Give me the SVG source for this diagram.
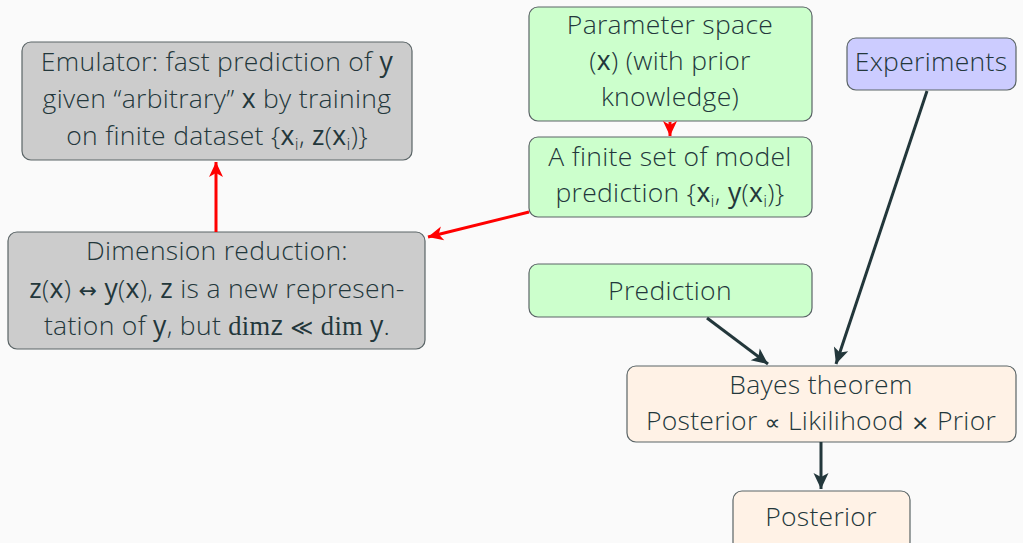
<svg xmlns="http://www.w3.org/2000/svg" width="1023" height="543" viewBox="0 0 1023 543">
<style>
.t{font-family:"Open Sans","Noto Sans","DejaVu Sans",sans-serif;font-weight:300;font-size:26.5px;letter-spacing:0.3px;fill:#23373b;text-anchor:middle}
.b{font-weight:500}
.s{font-size:17px}
.m{font-family:"Liberation Serif",serif;font-weight:400}
.o{font-family:"DejaVu Sans",sans-serif;font-weight:400;font-size:22px}
.box{stroke:#5a6466;stroke-width:1.2}
.gray{fill:#cccccc}
.green{fill:#ccffcc}
.blue{fill:#ccccff}
.peach{fill:#fff2e6}
.red{stroke:#ff0000;stroke-width:3;fill:none}
.dark{stroke:#23373b;stroke-width:3;fill:none}
</style>
<defs>
<marker id="ar" viewBox="-16 -8 16 16" refX="0" refY="0" markerWidth="16" markerHeight="16" orient="auto" markerUnits="userSpaceOnUse" overflow="visible">
<path d="M0,0 L-15,-7 L-11,0 L-15,7 Z" fill="#ff0000"/>
</marker>
<marker id="ad" viewBox="-16 -8 16 16" refX="0" refY="0" markerWidth="16" markerHeight="16" orient="auto" markerUnits="userSpaceOnUse" overflow="visible">
<path d="M0,0 L-16,-7.5 L-12,0 L-16,7.5 Z" fill="#23373b"/>
</marker>
</defs>
<rect width="1023" height="543" fill="#fafafa"/>

<g id="emulator">
<rect class="box gray" x="22" y="42" width="390" height="118" rx="9"/>
<text class="t" x="217" y="71">Emulator: fast prediction of <tspan class="b">y</tspan></text>
<text class="t" x="217" y="108">given “arbitrary” <tspan class="b">x</tspan> by training</text>
<text class="t" x="217" y="145">on finite dataset {<tspan class="b">x</tspan><tspan class="s" dy="5">i</tspan><tspan dy="-5">, </tspan><tspan class="b">z</tspan>(<tspan class="b">x</tspan><tspan class="s" dy="5">i</tspan><tspan dy="-5">)}</tspan></text>
</g>

<g id="dimension">
<rect class="box gray" x="8" y="232" width="417" height="117" rx="9"/>
<text class="t" x="217" y="260">Dimension reduction:</text>
<text class="t" x="217" y="298"><tspan class="b">z</tspan>(<tspan class="b">x</tspan>) <tspan class="o">↔</tspan> <tspan class="b">y</tspan>(<tspan class="b">x</tspan>), <tspan class="b">z</tspan> is a new represen-</text>
<text class="t" x="217" y="335">tation of <tspan class="b">y</tspan>, but <tspan class="m">dim</tspan><tspan class="b">z</tspan> <tspan class="o">≪</tspan> <tspan class="m">dim </tspan><tspan class="b">y</tspan>.</text>
</g>

<g id="parameter">
<rect class="box green" x="529" y="7" width="283" height="114" rx="9"/>
<text class="t" x="670" y="34">Parameter space</text>
<text class="t" x="670" y="70">(<tspan class="b">x</tspan>) (with prior</text>
<text class="t" x="670" y="106">knowledge)</text>
</g>

<g id="finite">
<rect class="box green" x="529" y="137" width="283" height="80" rx="9"/>
<text class="t" x="670" y="166">A finite set of model</text>
<text class="t" x="670" y="202">prediction {<tspan class="b">x</tspan><tspan class="s" dy="5">i</tspan><tspan dy="-5">, </tspan><tspan class="b">y</tspan>(<tspan class="b">x</tspan><tspan class="s" dy="5">i</tspan><tspan dy="-5">)}</tspan></text>
</g>

<g id="experiments">
<rect class="box blue" x="847" y="38" width="169" height="52" rx="9"/>
<text class="t" x="931" y="71">Experiments</text>
</g>

<g id="prediction">
<rect class="box green" x="529" y="264" width="283" height="53" rx="9"/>
<text class="t" x="670" y="300">Prediction</text>
</g>

<g id="bayes">
<rect class="box peach" x="627" y="366" width="389" height="76" rx="9"/>
<text class="t" x="821" y="394">Bayes theorem</text>
<text class="t" x="821" y="430">Posterior <tspan class="o">∝</tspan> Likilihood <tspan class="o">×</tspan> Prior</text>
</g>

<g id="posterior">
<rect class="box peach" x="733" y="491" width="177" height="60" rx="9"/>
<text class="t" x="821" y="526">Posterior</text>
</g>

<g id="connectors">
<line class="red" x1="670" y1="122" x2="670" y2="136" marker-end="url(#ar)"/>
<line class="red" x1="529" y1="212" x2="428" y2="237" marker-end="url(#ar)"/>
<line class="red" x1="216" y1="232" x2="216" y2="162" marker-end="url(#ar)"/>
<line class="dark" x1="707" y1="318" x2="768" y2="364" marker-end="url(#ad)"/>
<line class="dark" x1="927" y1="91" x2="836" y2="364" marker-end="url(#ad)"/>
<line class="dark" x1="821" y1="442" x2="821" y2="489" marker-end="url(#ad)"/>
</g>
</svg>
